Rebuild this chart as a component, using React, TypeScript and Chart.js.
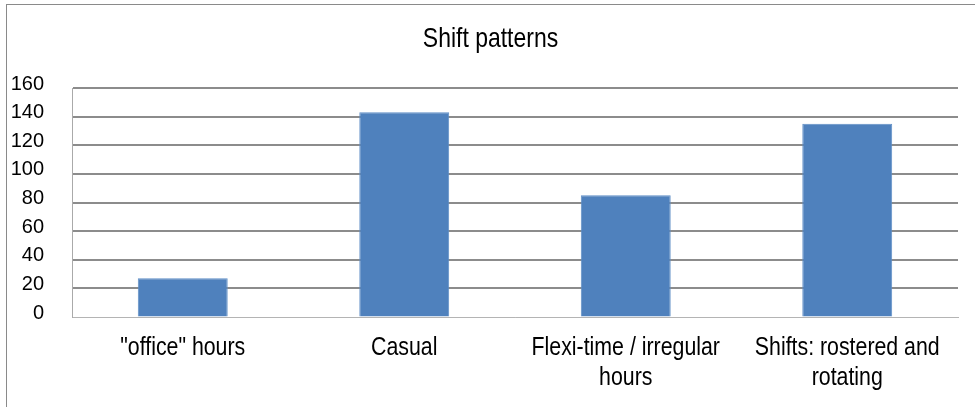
import React, { useEffect, useRef } from "react";
import { Chart, registerables } from "chart.js";

Chart.register(...registerables);

const categories: (string | string[])[] = [
  '"office" hours',
  "Casual",
  ["Flexi-time / irregular", "hours"],
  ["Shifts: rostered and", "rotating"],
];
const values: number[] = [27, 143, 85, 135];
const titleText = "Shift patterns";
const yMin = 0;
const yMax = 160;
const yStep = 20;

const FONT = '"Liberation Sans", Arial, sans-serif';
const NARROW = 0.82;

// Draws the title and category labels in a narrow (condensed) style.
const narrowTextPlugin = {
  id: "narrowText",
  afterDraw(chart: any) {
    const ctx = chart.ctx as CanvasRenderingContext2D;
    const xScale = chart.scales.x;
    ctx.save();
    ctx.fillStyle = "#000";
    ctx.textAlign = "center";
    ctx.textBaseline = "alphabetic";

    // title
    ctx.save();
    ctx.font = `28px ${FONT}`;
    ctx.translate(chart.width / 2 + 3, 47);
    ctx.scale(NARROW, 1);
    ctx.fillText(titleText, 0, 0);
    ctx.restore();

    // category labels
    const base = chart.chartArea.bottom;
    categories.forEach((lab, i) => {
      const lines = Array.isArray(lab) ? lab : [lab];
      const x = xScale.getPixelForTick(i);
      lines.forEach((line, k) => {
        ctx.save();
        ctx.font = `26px ${FONT}`;
        ctx.translate(x, base + 38 + k * 30);
        ctx.scale(NARROW, 1);
        ctx.fillText(line, 0, 0);
        ctx.restore();
      });
    });
    ctx.restore();
  },
};

export default function App() {
  const ref = useRef<HTMLCanvasElement | null>(null);

  useEffect(() => {
    if (!ref.current) return;
    const chart = new Chart(ref.current, {
      type: "bar",
      data: {
        labels: categories,
        datasets: [
          {
            data: values,
            backgroundColor: "#4f81bd",
            borderColor: "#5f8ec6",
            borderWidth: 1,
            barPercentage: 0.406,
            categoryPercentage: 1,
          },
        ],
      },
      plugins: [narrowTextPlugin],
      options: {
        animation: false,
        responsive: false,
        maintainAspectRatio: false,
        layout: { padding: { left: 0, right: 17, top: 88, bottom: 0 } },
        plugins: {
          legend: { display: false },
          tooltip: { enabled: false },
          title: { display: false },
        },
        scales: {
          x: {
            grid: { display: false, drawTicks: false },
            border: { display: true, color: "#b4b4b4", width: 1 },
            ticks: {
              display: false,
              autoSkip: false,
            },
            afterFit: (s: any) => {
              s.height = 90;
            },
          },
          y: {
            min: yMin,
            max: yMax,
            grid: {
              drawTicks: false,
              color: (c: any) => (c.tick && c.tick.value === 0 ? "#b4b4b4" : "#8c8c8c"),
              lineWidth: (c: any) => (c.tick && c.tick.value === 0 ? 1 : 2),
            },
            border: { display: true, color: "#aaaaaa", width: 1 },
            ticks: {
              stepSize: yStep,
              color: "#000",
              font: { family: FONT, size: 20 },
              padding: 28,
              labelOffset: -4,
            },
            afterFit: (s: any) => {
              s.width = 72;
            },
          },
        },
      },
    });
    return () => chart.destroy();
  }, []);

  return (
    <div
      style={{
        position: "fixed",
        left: 0,
        top: 0,
        width: 975,
        height: 407,
        overflow: "hidden",
        background: "#fff",
      }}
    >
      <div
        style={{
          position: "absolute",
          left: 6,
          top: 4,
          width: 1000,
          height: 450,
          border: "1px solid #8a8a8a",
          boxSizing: "border-box",
        }}
      />
      <canvas
        ref={ref}
        width={975}
        height={407}
        style={{ position: "absolute", left: 0, top: 0, width: 975, height: 407 }}
      />
    </div>
  );
}
